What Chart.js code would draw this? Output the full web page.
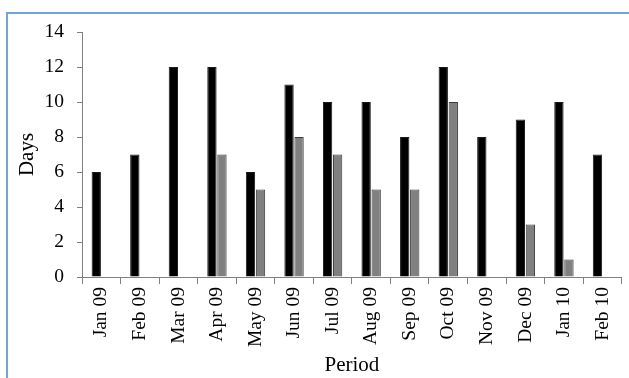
<!DOCTYPE html>
<html>
<head>
<meta charset="utf-8">
<script src="https://cdn.jsdelivr.net/npm/chart.js@4.4.0/dist/chart.umd.min.js"></script>
<style>
  body { margin: 0; background: #fff; overflow: hidden; }
  .wrap { position: relative; width: 629px; height: 378px; overflow: hidden; }
  .frame {
    position: absolute; left: 6px; top: 12px; width: 700px; height: 500px;
    border-left: 2px solid #6fa5d8; border-top: 2px solid #6fa5d8;
  }
  canvas { position: absolute; left: 0; top: 0; }
</style>
</head>
<body>
<div class="wrap">
  <div class="frame"></div>
  <canvas id="chart" width="629" height="378"></canvas>
</div>
<script>
const periods = ["Jan 09", "Feb 09", "Mar 09", "Apr 09", "May 09", "Jun 09", "Jul 09",
  "Aug 09", "Sep 09", "Oct 09", "Nov 09", "Dec 09", "Jan 10", "Feb 10"];
const blackDays = [6, 7, 12, 12, 6, 11, 10, 10, 8, 12, 8, 9, 10, 7];
const greyDays = [0, 0, 0, 7, 5, 8, 7, 5, 5, 10, 0, 3, 1, 0];
const yTicks = [0, 2, 4, 6, 8, 10, 12, 14];

const serif = "'Liberation Serif', 'Times New Roman', serif";
const axisGrey = "#808080";

const ctx = document.getElementById("chart").getContext("2d");

new Chart(ctx, {
  type: "bar",
  data: {
    labels: periods,
    datasets: [
      {
        label: "Series 1",
        data: blackDays,
        backgroundColor: "#000000",
        borderColor: "#1a1a1a",
        borderWidth: 1,
      },
      {
        label: "Series 2",
        data: greyDays,
        backgroundColor: "#808080",
        borderColor: "#3a3a3a",
        borderWidth: 1,
      },
    ],
  },
  options: {
    responsive: false,
    animation: false,
    categoryPercentage: 0.52,
    barPercentage: 0.93,
    layout: {
      padding: { top: 32, right: 3, left: 0, bottom: 0 },
    },
    plugins: {
      legend: { display: false },
      tooltip: { enabled: false },
    },
    scales: {
      x: {
        offset: true,
        grid: {
          offset: true,
          drawOnChartArea: false,
          tickLength: 7,
          color: axisGrey,
        },
        border: { color: axisGrey },
        ticks: {
          color: "#000",
          font: { family: serif, size: 19.5 },
          minRotation: 90,
          maxRotation: 90,
          autoSkip: false,
          padding: 3,
        },
        title: {
          display: true,
          text: "Period",
          color: "#000",
          font: { family: serif, size: 21 },
          padding: { top: 0, bottom: 0 },
        },
        afterFit: (scale) => {
          scale.height = 101;
        },
      },
      y: {
        min: 0,
        max: 14,
        afterBuildTicks: (scale) => {
          scale.ticks = yTicks.map((v) => ({ value: v }));
        },
        grid: {
          drawOnChartArea: false,
          tickLength: 5,
          color: axisGrey,
        },
        border: { color: axisGrey },
        ticks: {
          color: "#000",
          font: { family: serif, size: 19.5 },
          padding: 13,
        },
        title: {
          display: true,
          text: "Days",
          color: "#000",
          font: { family: serif, size: 21 },
          padding: { top: 15, bottom: 0 },
        },
        afterFit: (scale) => {
          scale.width = 82;
        },
      },
    },
  },
});
</script>
</body>
</html>
